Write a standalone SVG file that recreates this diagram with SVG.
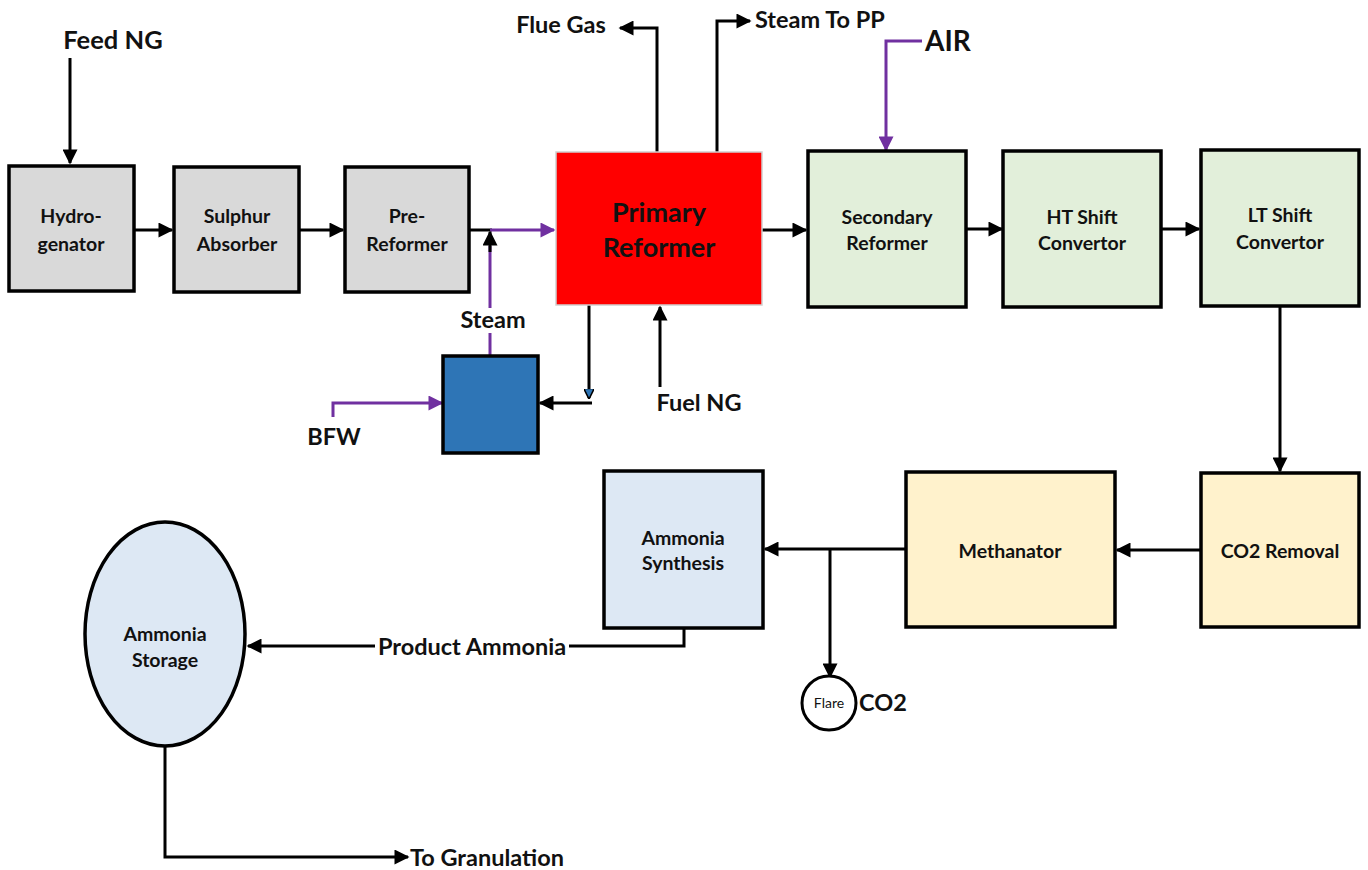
<svg xmlns="http://www.w3.org/2000/svg" width="1368" height="870" viewBox="0 0 1368 870">
<defs>
<marker id="ah" viewBox="0 0 10 10" refX="9" refY="5" markerWidth="5.5" markerHeight="5" orient="auto" markerUnits="strokeWidth"><path d="M0,0 L10,5 L0,10 z" fill="#000"/></marker>
<marker id="ahp" viewBox="0 0 10 10" refX="9" refY="5" markerWidth="5.5" markerHeight="5" orient="auto" markerUnits="strokeWidth"><path d="M0,0 L10,5 L0,10 z" fill="#7030a0"/></marker>
<marker id="ahs" viewBox="0 0 10 10" refX="9" refY="5" markerWidth="3.5" markerHeight="3.5" orient="auto" markerUnits="strokeWidth"><path d="M0,0 L10,5 L0,10 z" fill="#2e75b6" stroke="#000" stroke-width="1.5"/></marker>
</defs>
<style>
.box{stroke:#000;stroke-width:3.5}
.grey{fill:#d9d9d9}
.green{fill:#e2efda}
.yellow{fill:#fff2cc}
.blue{fill:#dde8f4}
.t{font-family:Lato,"Liberation Sans",sans-serif;font-weight:bold;fill:#111;text-anchor:middle}
.n{font-size:19.5px}
.l{font-size:23.5px}
.c{fill:none;stroke:#000;stroke-width:3}
.p{fill:none;stroke:#7030a0;stroke-width:3}
</style>
<rect width="1368" height="870" fill="#fff"/>
<g id="connectors">
<path class="c" d="M70,58 V163" marker-end="url(#ah)"/>
<path class="c" d="M134,230 H172" marker-end="url(#ah)"/>
<path class="c" d="M299,230 H343" marker-end="url(#ah)"/>
<path class="c" d="M469,230 H492"/>
<path class="p" d="M490,230 H554" marker-end="url(#ahp)"/>
<path class="p" d="M490,308 V246"/>
<path class="c" d="M490,252 V232" marker-end="url(#ah)"/>
<path class="p" d="M490,333 V356"/>
<path class="c" d="M657,152 V28 H620" marker-end="url(#ah)"/>
<path class="c" d="M717,152 V21 H750" marker-end="url(#ah)"/>
<path class="p" d="M922,41 H886 V150" marker-end="url(#ahp)"/>
<path class="c" d="M762,230 H806" marker-end="url(#ah)"/>
<path class="c" d="M966,229 H1002" marker-end="url(#ah)"/>
<path class="c" d="M1161,229 H1199" marker-end="url(#ah)"/>
<path class="c" d="M1280,306 V471" marker-end="url(#ah)"/>
<path class="c" d="M1201,550 H1117" marker-end="url(#ah)"/>
<path class="c" d="M906,549 H765" marker-end="url(#ah)"/>
<path class="c" d="M830,549 V677" marker-end="url(#ah)"/>
<path class="c" d="M684,628 V646 H569"/>
<path class="c" d="M375,646 H248" marker-end="url(#ah)"/>
<path class="c" d="M165,746 V857 H408" marker-end="url(#ah)"/>
<path class="c" d="M589,305 V398" marker-end="url(#ahs)"/>
<path class="c" d="M592,403 H540" marker-end="url(#ah)"/>
<path class="c" d="M660,387 V307" marker-end="url(#ah)"/>
<path class="p" d="M333,417 V403 H442" marker-end="url(#ahp)"/>
</g>
<g id="hydrogenator"><rect class="box grey" x="9" y="166" width="125" height="125"/><text class="t n" x="71" y="223">Hydro-</text><text class="t n" x="71" y="251">genator</text></g>
<g id="sulphur-absorber"><rect class="box grey" x="174" y="167" width="125" height="125"/><text class="t n" x="237" y="223">Sulphur</text><text class="t n" x="237" y="251">Absorber</text></g>
<g id="pre-reformer"><rect class="box grey" x="345" y="167" width="124" height="125"/><text class="t n" x="407" y="223">Pre-</text><text class="t n" x="407" y="251">Reformer</text></g>
<g id="primary-reformer"><rect x="556" y="152" width="206" height="153" fill="#ff0000" stroke="#d0d0d0" stroke-width="1.5"/><text class="t" style="font-size:27px" x="659" y="222">Primary</text><text class="t" style="font-size:27px" x="659" y="257">Reformer</text></g>
<g id="secondary-reformer"><rect class="box green" x="808" y="151" width="158" height="156"/><text class="t n" x="887" y="224">Secondary</text><text class="t n" x="887" y="250">Reformer</text></g>
<g id="ht-shift"><rect class="box green" x="1003" y="151" width="158" height="156"/><text class="t n" x="1082" y="224">HT Shift</text><text class="t n" x="1082" y="250">Convertor</text></g>
<g id="lt-shift"><rect class="box green" x="1201" y="150" width="158" height="156"/><text class="t n" x="1280" y="222">LT Shift</text><text class="t n" x="1280" y="249">Convertor</text></g>
<g id="co2-removal"><rect class="box yellow" x="1201" y="473" width="158" height="154"/><text class="t n" x="1280" y="558">CO2 Removal</text></g>
<g id="methanator"><rect class="box yellow" x="906" y="472" width="209" height="155"/><text class="t n" x="1010" y="558">Methanator</text></g>
<g id="ammonia-synthesis"><rect class="box blue" x="604" y="471" width="159" height="157"/><text class="t n" x="683" y="545">Ammonia</text><text class="t n" x="683" y="570">Synthesis</text></g>
<g id="ammonia-storage"><ellipse class="box blue" cx="165" cy="634" rx="80" ry="112"/><text class="t n" x="165" y="641">Ammonia</text><text class="t n" x="165" y="667">Storage</text></g>
<g id="heat-exchanger"><rect class="box" fill="#2e75b6" x="443" y="356" width="95" height="97"/></g>
<g id="flare"><circle cx="829" cy="703" r="27" fill="#fff" stroke="#000" stroke-width="3"/><text class="t" style="font-size:14px;font-weight:normal" x="829" y="708">Flare</text></g>
<g id="labels">
<text class="t" style="font-size:25.5px" x="113" y="49">Feed NG</text>
<text class="t l" x="561" y="33">Flue Gas</text>
<text class="t l" x="755" y="28" style="text-anchor:start">Steam To PP</text>
<text class="t" style="font-size:28px;text-anchor:start" x="925" y="51">AIR</text>
<text class="t l" x="493" y="328">Steam</text>
<text class="t l" x="699" y="411">Fuel NG</text>
<text class="t l" x="334" y="445">BFW</text>
<text class="t l" x="472" y="655">Product Ammonia</text>
<text class="t l" x="410" y="866" style="text-anchor:start">To Granulation</text>
<text class="t l" x="859" y="711" style="text-anchor:start">CO2</text>
</g>
</svg>
